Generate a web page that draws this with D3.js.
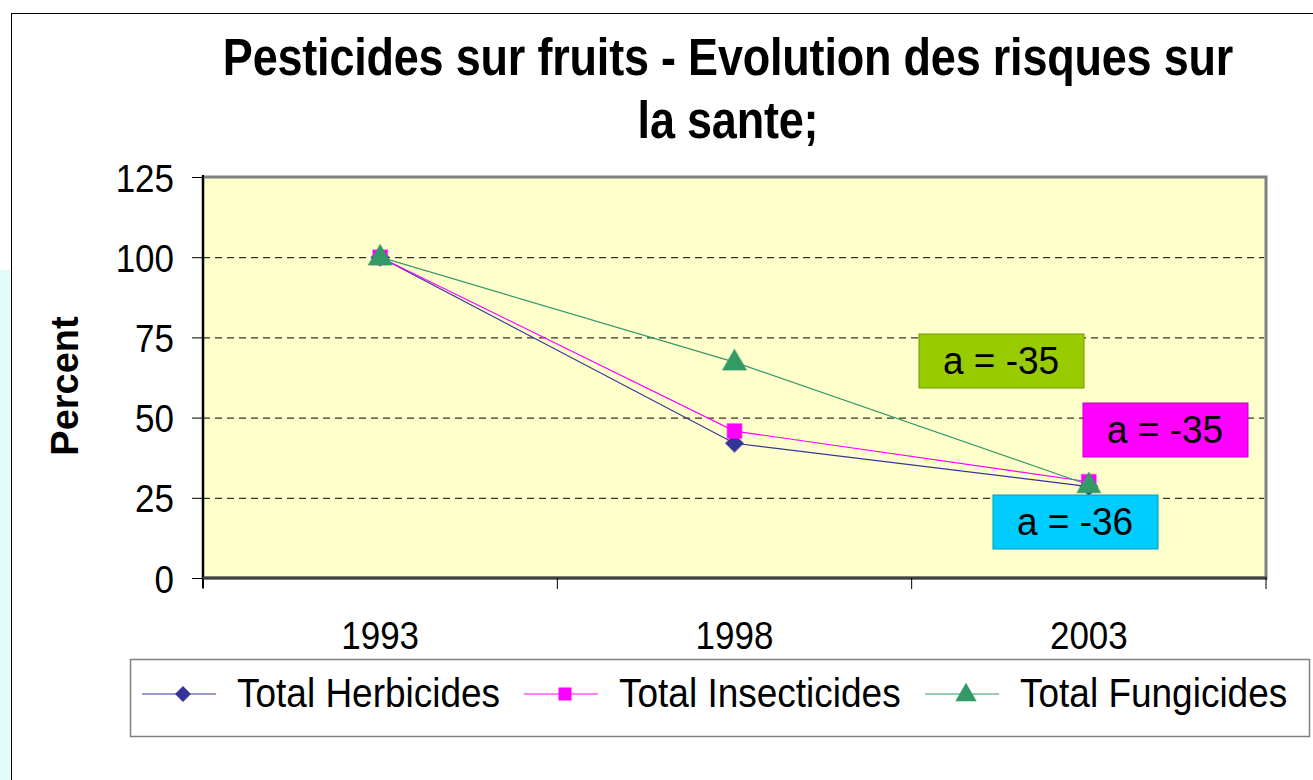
<!DOCTYPE html>
<html lang="fr">
<head>
<meta charset="UTF-8" />
<title>Pesticides sur fruits</title>
<style>
  body { margin: 0; background: #fff; }
  svg { display: block; font-family: "Liberation Sans", Arial, sans-serif; }
</style>
</head>
<body>
<svg id="svg" width="1313" height="780"></svg>
<script src="https://cdn.jsdelivr.net/npm/d3@7/dist/d3.min.js"></script>
<script>
const years = ["1993", "1998", "2003"]
const herbicides = [100, 42, 28.5]
const insecticides = [100, 45.8, 30]
const fungicides = [100, 67.3, 29]
const yTicks = [0, 25, 50, 75, 100, 125]
const seriesNames = ["Total Herbicides", "Total Insecticides", "Total Fungicides"]
const slopeLabels = ["a = -36", "a = -35", "a = -35"]

const series = [
  { name: seriesNames[0], values: herbicides, color: "#333399", marker: "diamond", label: slopeLabels[0], box: "#00CCFF" },
  { name: seriesNames[1], values: insecticides, color: "#FF00FF", marker: "square", label: slopeLabels[1], box: "#FF00FF" },
  { name: seriesNames[2], values: fungicides, color: "#339966", marker: "triangle", label: slopeLabels[2], box: "#99CC00" }
]

const svg = d3.select("#svg")
const plot = { left: 203, right: 1266, top: 177, bottom: 578 }
const stretch = 1.12 // le texte de l'original est un peu etire en hauteur

// fond de la diapo a gauche + cadre du graphique
svg.append("rect").attr("x", 0).attr("y", 270).attr("width", 10).attr("height", 510).attr("fill", "#e4fbfb")
svg.append("rect").attr("x", 11.5).attr("y", 13.5).attr("width", 1320).attr("height", 800)
  .attr("fill", "#fff").attr("stroke", "#000").attr("stroke-width", 1)

const x = d3.scaleBand().domain(years).range([plot.left, plot.right]).padding(0)
const xc = (d) => x(d) + x.bandwidth() / 2
const y = d3.scaleLinear().domain([0, 125]).range([plot.bottom, plot.top])

function markerPath(type, s) {
  if (type === "triangle") return d3.symbol(d3.symbolTriangle, s * s * 0.95)()
  return d3.symbol(d3.symbolSquare, s * s)()
}
const markerRot = (type) => (type === "diamond" ? " rotate(45)" : "")
const markerSize = { diamond: 12.5, square: 14.5, triangle: 16 }

// titre
const titleLines = ["Pesticides sur fruits - Evolution des risques sur", "la sante;"]
svg.append("g").selectAll("text").data(titleLines).join("text")
  .attr("transform", (d, i) => `translate(728,${75 + i * 63}) scale(1,${stretch + 0.03})`)
  .attr("text-anchor", "middle").attr("font-weight", "bold")
  .attr("font-size", 45).attr("letter-spacing", -0.2).text((d) => d)

// zone de trace
svg.append("rect").attr("x", plot.left).attr("y", plot.top)
  .attr("width", plot.right - plot.left).attr("height", plot.bottom - plot.top)
  .attr("fill", "#FFFFCC").attr("stroke", "#808080").attr("stroke-width", 3)

// grille
svg.append("g").selectAll("line").data(yTicks.filter((d) => d > 0 && d < 125)).join("line")
  .attr("x1", plot.left).attr("x2", plot.right - 2)
  .attr("y1", (d) => y(d) + 0.5).attr("y2", (d) => y(d) + 0.5)
  .attr("stroke", "#000").attr("stroke-dasharray", "7,5").attr("stroke-width", 1)

// axe Y
const yAxis = svg.append("g").attr("transform", `translate(${plot.left},0)`)
  .call(d3.axisLeft(y).tickValues(yTicks).tickSize(11).tickPadding(18))
yAxis.select(".domain").attr("stroke", "#000").attr("stroke-width", 2).attr("d", `M0,${plot.top - 2}V${plot.bottom + 10}`)
yAxis.selectAll(".tick line").attr("stroke", "#000")
yAxis.selectAll(".tick text").attr("font-size", 35).attr("fill", "#000").attr("dy", "0.36em")
  .attr("transform", `scale(1,${stretch})`)
  .style("font-family", "Liberation Sans, Arial, sans-serif")

// axe X
const xAxis = svg.append("g").attr("transform", `translate(0,${plot.bottom})`)
xAxis.append("line").attr("x1", plot.left).attr("x2", plot.right + 1).attr("y1", 0).attr("y2", 0)
  .attr("stroke", "#404040").attr("stroke-width", 3)
xAxis.selectAll(".bt").data(years.map((d) => x(d)).concat([plot.right])).join("line")
  .attr("x1", (d) => d).attr("x2", (d) => d).attr("y1", 0).attr("y2", 11)
  .attr("stroke", "#000").attr("stroke-width", 1)
xAxis.selectAll("text").data(years).join("text")
  .attr("transform", (d) => `translate(${xc(d)},71) scale(1,${stretch})`)
  .attr("text-anchor", "middle").attr("font-size", 35).text((d) => d)

// series
const line = d3.line().x((d, i) => xc(years[i])).y((d) => y(d))

series.forEach((s) => {
  svg.append("path").attr("d", line(s.values)).attr("fill", "none")
    .attr("stroke", s.color).attr("stroke-width", 1.2)
})
series.forEach((s) => {
  svg.append("g").selectAll("path").data(s.values).join("path")
    .attr("transform", (d, i) => `translate(${xc(years[i])},${y(d) + (s.marker === "triangle" ? 1 : 0)})${markerRot(s.marker)}`)
    .attr("d", markerPath(s.marker, markerSize[s.marker]))
    .attr("fill", s.color).attr("stroke", s.color).attr("stroke-opacity", 0.5).attr("stroke-width", 1.5)
    .attr("stroke-linejoin", "round")
})

// etiquettes de pente
const boxes = [
  { s: series[2], x: 919, y: 334 },
  { s: series[1], x: 1083, y: 403 },
  { s: series[0], x: 993, y: 495 }
]
boxes.forEach((b) => {
  const g = svg.append("g").attr("transform", `translate(${b.x},${b.y})`)
  g.append("rect").attr("width", 165).attr("height", 54).attr("fill", b.s.box)
    .attr("stroke", d3.color(b.s.box).darker(0.8)).attr("stroke-width", 1)
  g.append("text").attr("transform", `translate(82,40) scale(1,1.06)`).attr("text-anchor", "middle")
    .attr("font-size", 37).text(b.s.label)
})

// titre axe Y
svg.append("text").attr("transform", "translate(78,386) rotate(-90)")
  .attr("text-anchor", "middle").attr("font-weight", "bold").attr("font-size", 38).text("Percent")

// legende
const legend = svg.append("g")
legend.append("rect").attr("x", 130.5).attr("y", 659.5).attr("width", 1179).attr("height", 77)
  .attr("fill", "#fff").attr("stroke", "#808080").attr("stroke-width", 1.5)
const legendX = [142, 524, 925]
series.forEach((s, i) => {
  const g = legend.append("g").attr("transform", `translate(${legendX[i]},694)`)
  g.append("line").attr("x1", 0).attr("x2", 74).attr("stroke", s.color).attr("stroke-width", 1.2)
  g.append("path").attr("transform", `translate(41,${s.marker === "triangle" ? 1 : 0})${markerRot(s.marker)}`)
    .attr("d", markerPath(s.marker, markerSize[s.marker] * 0.9)).attr("fill", s.color)
  g.append("text").attr("transform", `translate(95,13) scale(1,${stretch})`).attr("font-size", 37).text(s.name)
})
</script>
</body>
</html>
